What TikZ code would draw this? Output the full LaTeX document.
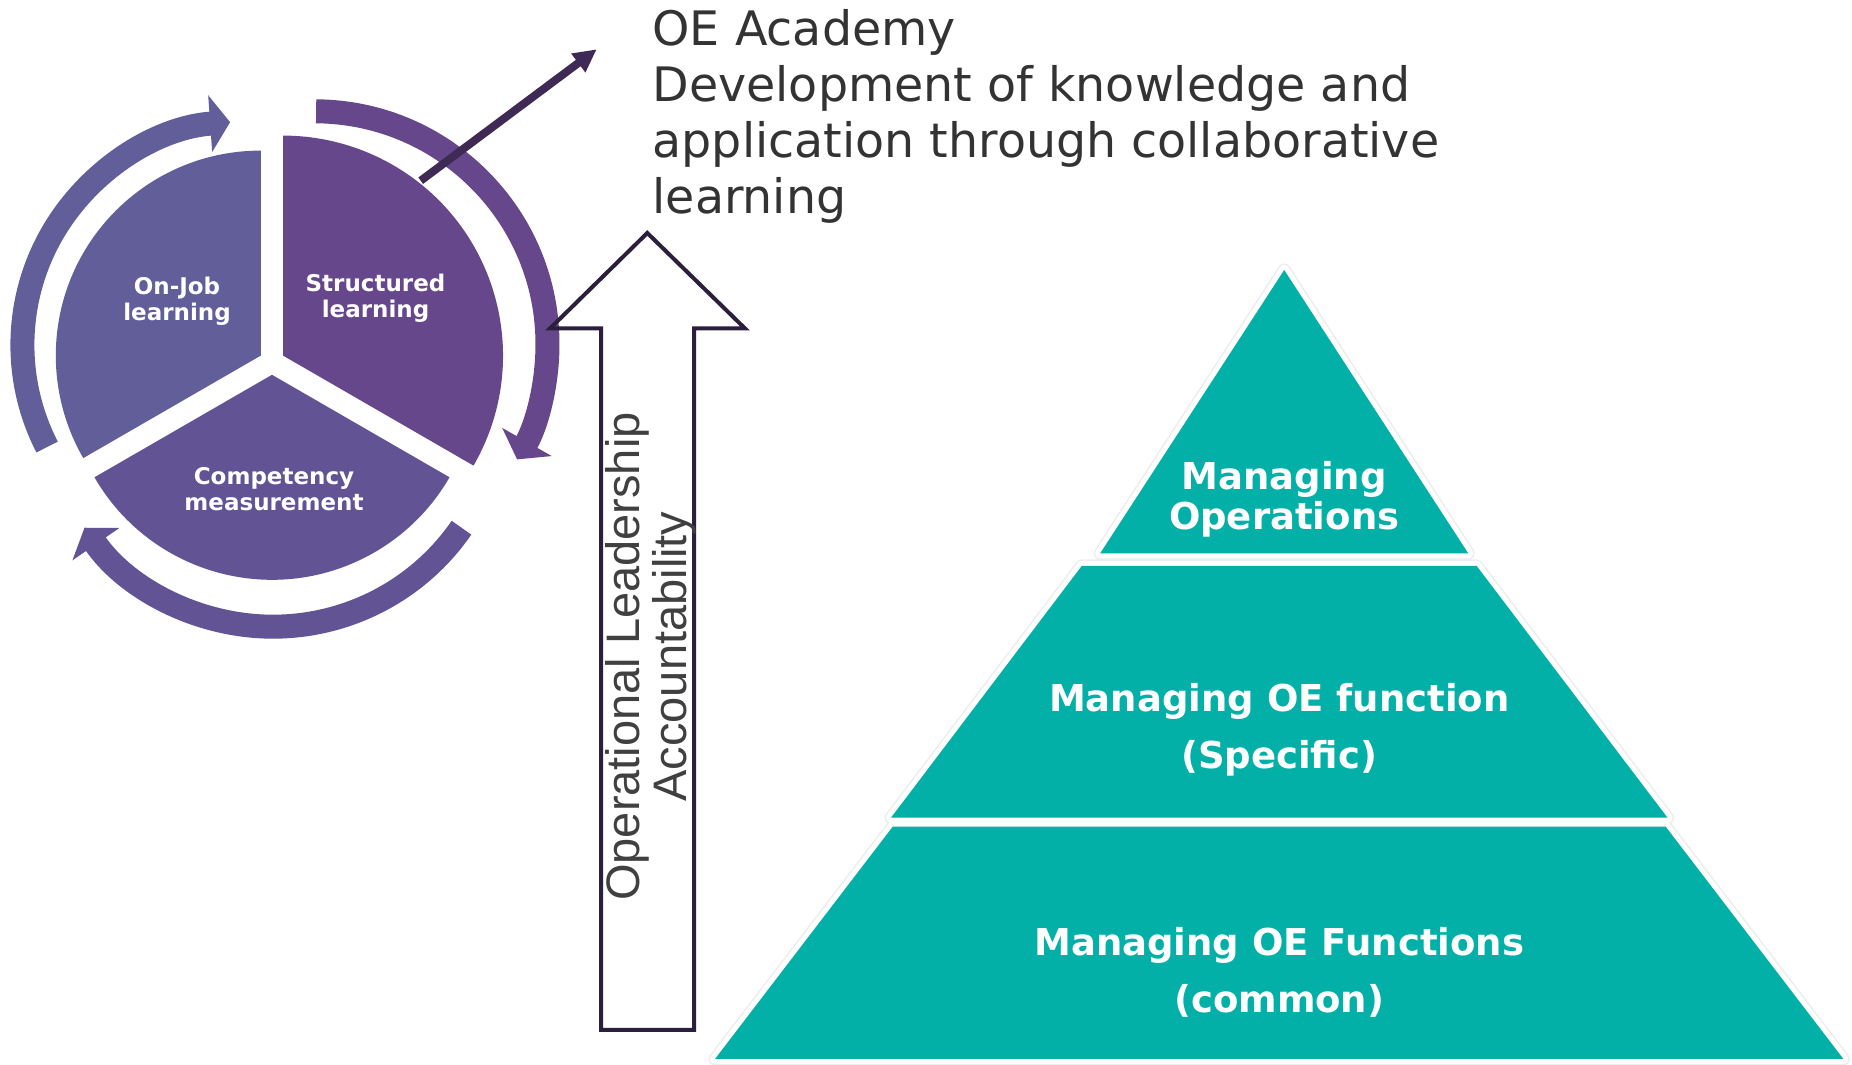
\documentclass[tikz,border=0pt]{standalone}
\usepackage{fontspec}
\setmainfont{DejaVu Sans}
\newfontfamily\leadfont{Liberation Sans}
\usetikzlibrary{arrows.meta}
\definecolor{onjob}{HTML}{615E99}
\definecolor{structured}{HTML}{66478B}
\definecolor{competency}{HTML}{625395}
\definecolor{pyrteal}{HTML}{02B0A8}
\definecolor{arrowink}{HTML}{2B1F3D}
\definecolor{linkink}{HTML}{3E2A55}
\definecolor{bodytext}{HTML}{333333}

\begin{document}
\begin{tikzpicture}[x=1pt, y=1pt,
    cyclearc/.style={line width=24pt, -{Triangle[width=56pt, length=20pt]}},
    pielabel/.style={text=white, align=center, inner sep=0pt, font=\bfseries\fontsize{23pt}{26pt}\selectfont},
    tierlabel/.style={text=white, align=center, inner sep=0pt, font=\bfseries\fontsize{37pt}{57pt}\selectfont}]
    \useasboundingbox (0,0) rectangle (1852,1065);
    \fill[white] (0,0) rectangle (1852,1065);

    % Learning cycle (exploded pie)
    \fill[onjob] (260.8,709.4) -- ++(90:205) arc[start angle=90, end angle=210, radius=205] -- cycle;
    \fill[structured] (283,709.4) -- ++(-30:220) arc[start angle=-30, end angle=90, radius=220] -- cycle;
    \fill[competency] (272,690.2) -- ++(210:205) arc[start angle=210, end angle=330, radius=205] -- cycle;

    % Cycle arrows round the pie
    \draw[cyclearc, onjob] (245.7,720) ++(207.2:223.3) arc[start angle=207.2, end angle=94, radius=223.3];
    \draw[cyclearc, structured] (314.5,720.7) ++(89.6:233) arc[start angle=89.6, end angle=-29.6, radius=233];
    \draw[cyclearc, competency] (273,667.3) ++(-34.6:229) arc[start angle=-34.6, end angle=-145.4, radius=229];

    \node[pielabel] (onjoblbl) at (177,763.8) {On-Job\\learning};
    \node[pielabel] (structlbl) at (375.5,767.1) {Structured\\learning};
    \node[pielabel] (complbl) at (274,575.4) {Competency\\measurement};

    % OE Academy text and its pointer
    \node[anchor=north west, align=left, inner sep=0pt, text=bodytext,
          font=\fontsize{47.5pt}{56pt}\selectfont] (academy) at (652.4,1055.7)
          {OE Academy\\Development of knowledge and\\application through collaborative\\learning};
    \coordinate (acadtail) at (420.7,884.3);
    \coordinate (acadtip) at (596.7,1015.7);
    \draw[linkink, line width=8pt, -{Triangle[width=22pt, length=23pt]}] (acadtail) -- (acadtip);

    % Block arrow
    \draw[arrowink, line width=4pt, line join=miter] (601,35) -- (601,736.5) -- (550,736.5) -- (647.3,832)
        -- (745,736.5) -- (694,736.5) -- (694,35) -- cycle;
    \node[rotate=90, align=center, inner sep=0pt, text=black!75,
          font=\leadfont\fontsize{47pt}{47pt}\selectfont] (lead) at (651.2,408.5)
          {Operational Leadership\\Accountability};

    % Pyramid
    \coordinate (t1a) at (1284.2,795);    \coordinate (t1b) at (1468.2,511.7); \coordinate (t1c) at (1100.2,511.7);
    \coordinate (t2a) at (1081.7,499);    \coordinate (t2b) at (1476.7,499);
    \coordinate (t2c) at (1667.5,247.3);  \coordinate (t2d) at (891,247.3);
    \coordinate (t3a) at (892.7,238.3);   \coordinate (t3b) at (1665.7,238.3);
    \coordinate (t3c) at (1843.4,6);      \coordinate (t3d) at (715,6);
    \foreach \rim/\w in {black!7/13pt, white/10pt}
        \draw[\rim, line width=\w, line join=round] (t1a) -- (t1b) -- (t1c) -- cycle
            (t2a) -- (t2b) -- (t2c) -- (t2d) -- cycle (t3a) -- (t3b) -- (t3c) -- (t3d) -- cycle;
    \fill[pyrteal] (t1a) -- (t1b) -- (t1c) -- cycle
        (t2a) -- (t2b) -- (t2c) -- (t2d) -- cycle (t3a) -- (t3b) -- (t3c) -- (t3d) -- cycle;

    \node[tierlabel, font=\bfseries\fontsize{37pt}{40pt}\selectfont] (ops) at (1284.2,565.9) {Managing\\Operations};
    \node[tierlabel] (oefn) at (1279.2,335.7) {Managing OE function\\(Specific)};
    \node[tierlabel] (oefns) at (1279.2,92.2) {Managing OE Functions\\(common)};
\end{tikzpicture}
\end{document}
